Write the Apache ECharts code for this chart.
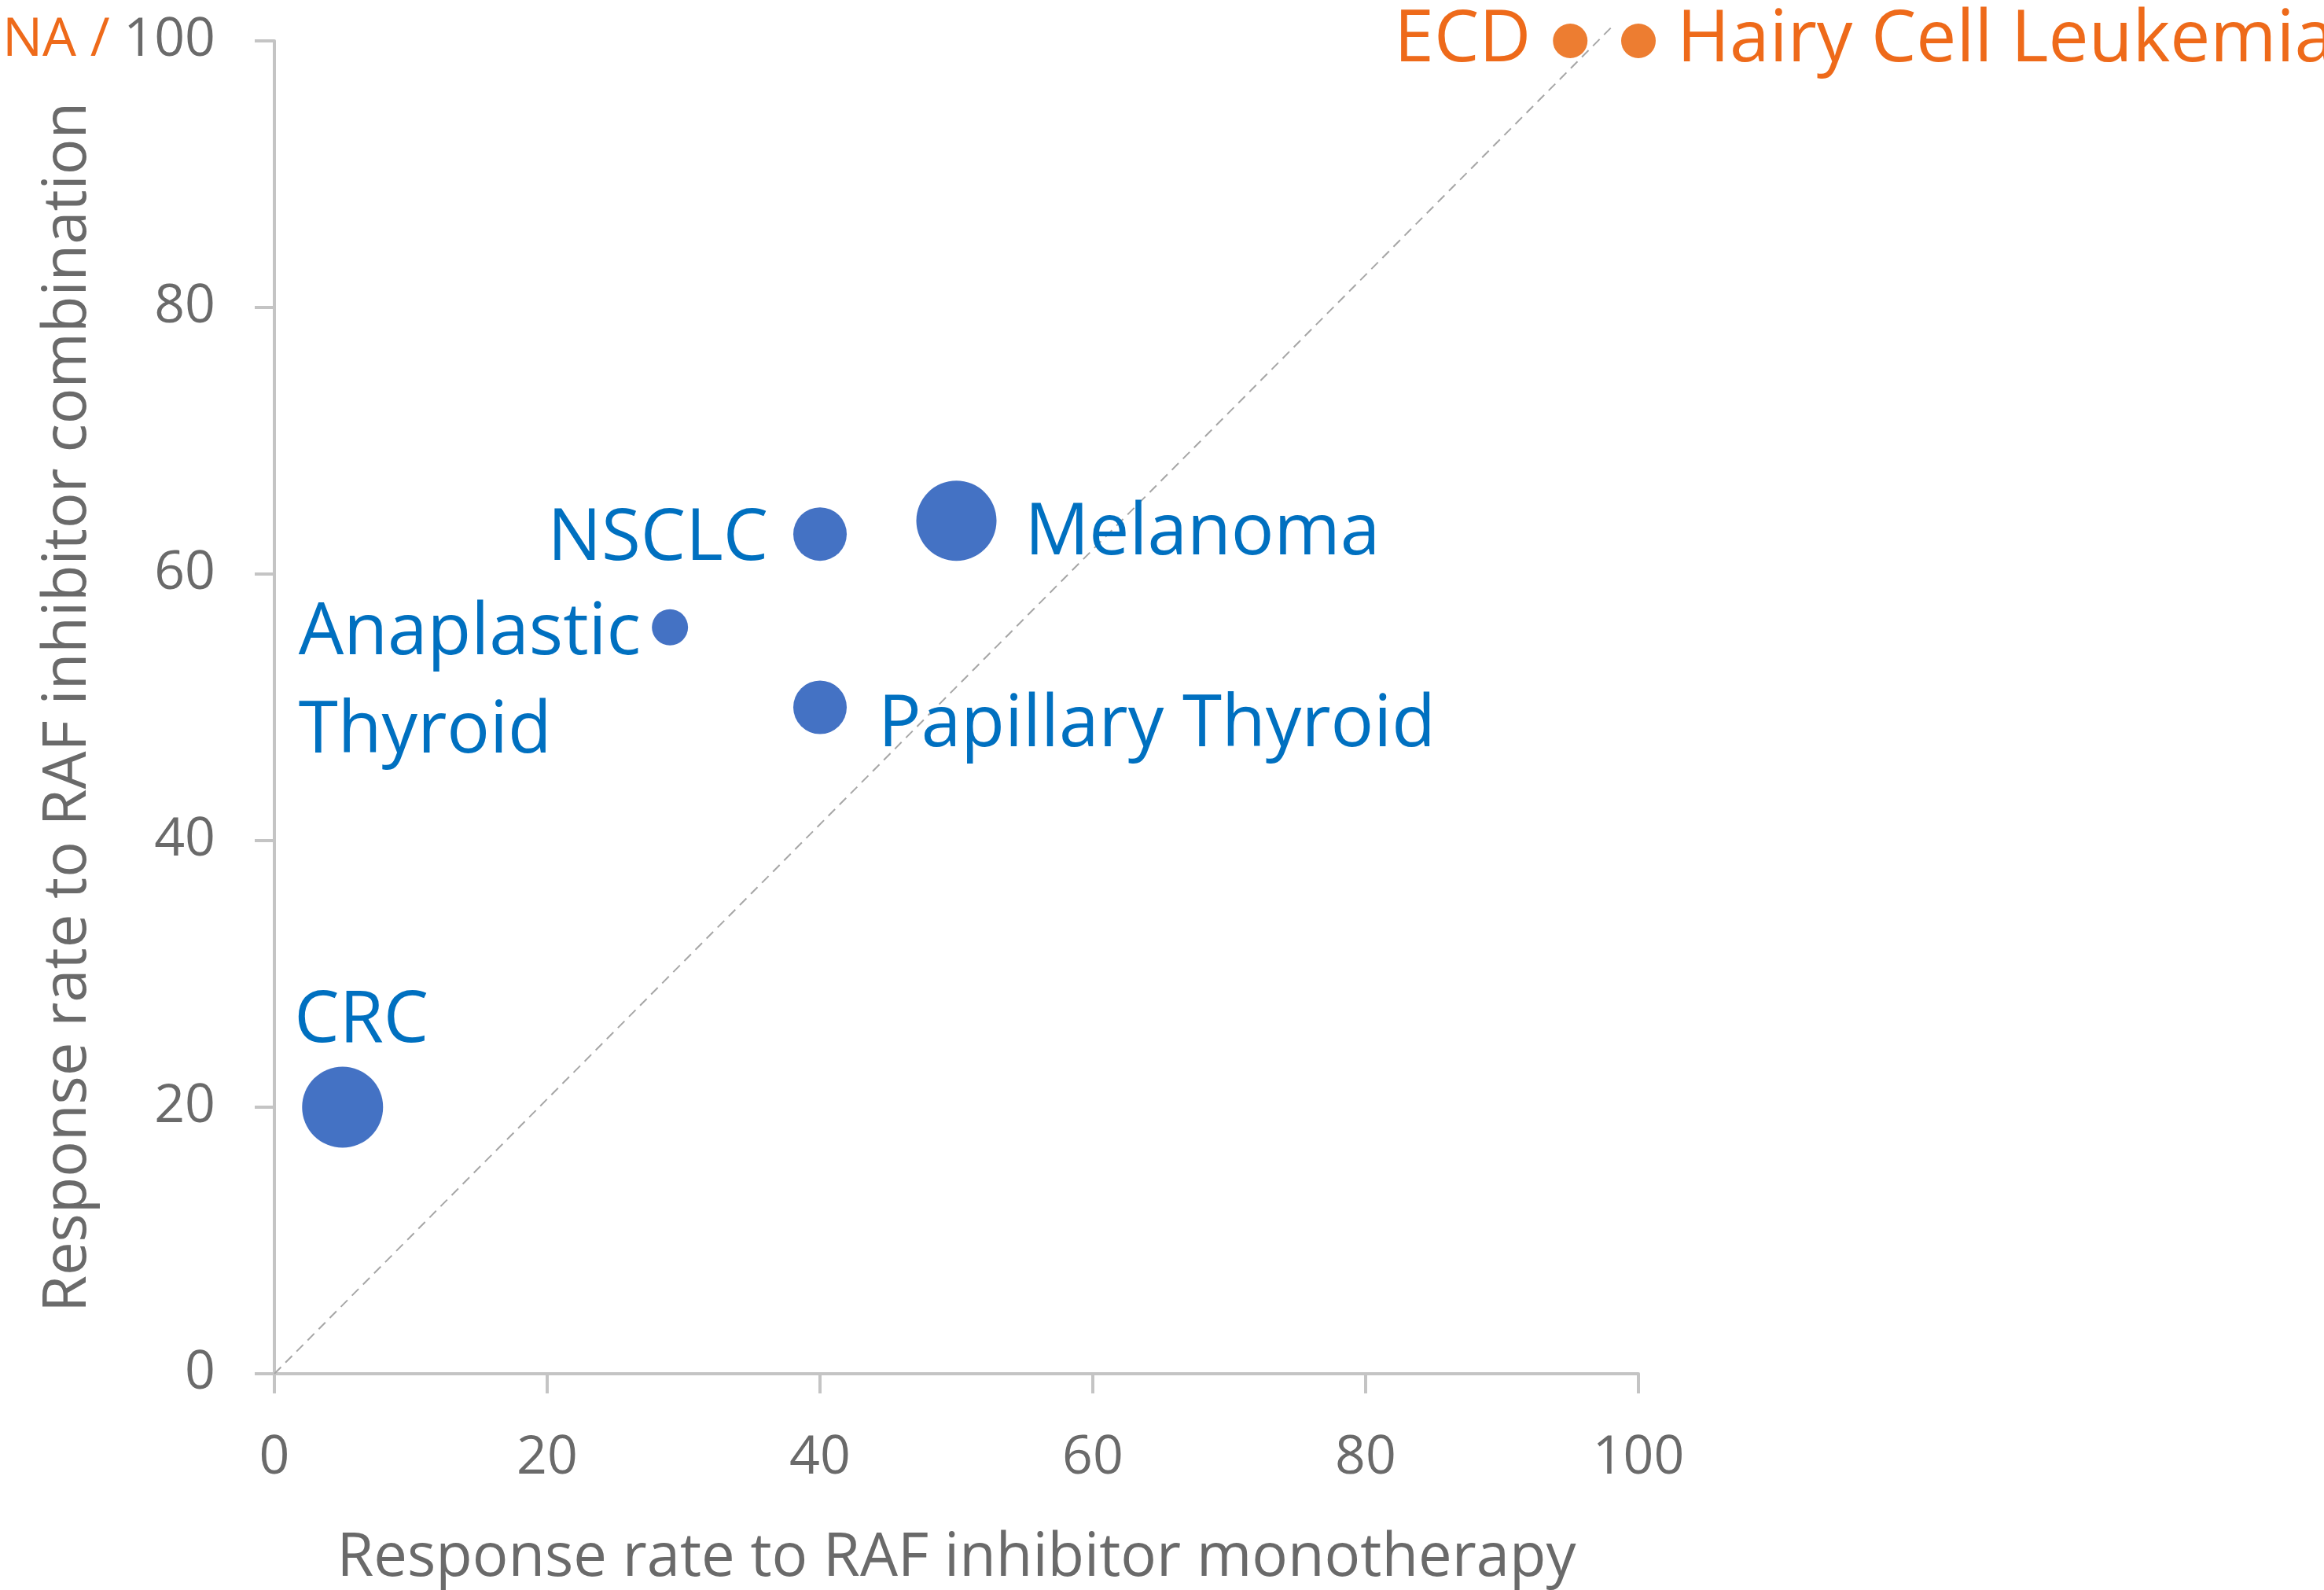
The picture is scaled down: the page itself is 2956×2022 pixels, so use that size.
<!DOCTYPE html>
<html>
<head>
<meta charset="utf-8">
<script src="https://cdn.jsdelivr.net/npm/echarts@6/dist/echarts.min.js"></script>
<style>
html,body{margin:0;padding:0;background:#fff;}
#chart{width:2956px;height:2022px;}
</style>
</head>
<body>
<div id="chart"></div>
<script>
// ---- data ----
const diseases = ['CRC', 'Anaplastic Thyroid', 'NSCLC', 'Papillary Thyroid', 'Melanoma'];
const monotherapyRate = [5, 29, 40, 40, 50];
const combinationRate = [20, 56, 63, 50, 64];
const naDiseases = ['ECD', 'Hairy Cell Leukemia'];
const naMonotherapyRate = [95, 100];
const naCombinationRate = [100, 100];
const xTicks = [0, 20, 40, 60, 80, 100];
const yTicks = [0, 20, 40, 60, 80, 100];
const diagonalX = [0, 98];
const diagonalY = [0, 101];

// ---- styles ----
const FONT = 'Open Sans';
const BLUE_DOT = '#4472C4';
const BLUE_TEXT = '#0070C0';
const ORANGE_DOT = '#ED7D31';
const ORANGE_TEXT = '#EE6A1A';
const GREY_TEXT = '#6A6A6A';
const AXIS_GREY = '#C4C4C4';
const LABEL_SIZE = 91;
const bubbleDiameters = {
  'CRC': 103, 'Anaplastic Thyroid': 46, 'NSCLC': 68,
  'Papillary Thyroid': 68, 'Melanoma': 102,
  'ECD': 44, 'Hairy Cell Leukemia': 44
};
const labelLayout = {
  'CRC': { position: 'top', distance: 12, offset: [24, 0] },
  'Anaplastic Thyroid': { position: 'left', distance: 14, offset: [0, 71],
    formatter: '{t|Anaplastic}\n{t|Thyroid}' },
  'NSCLC': { position: 'left', distance: 32, offset: [0, 7] },
  'Papillary Thyroid': { position: 'right', distance: 40, offset: [0, 24] },
  'Melanoma': { position: 'right', distance: 36, offset: [0, 17] },
  'ECD': { position: 'left', distance: 28, offset: [0, 0] },
  'Hairy Cell Leukemia': { position: 'right', distance: 27, offset: [0, 0] }
};

function buildPoints(names, xs, ys, textColor) {
  return names.map((n, i) => {
    const l = labelLayout[n];
    const label = {
      show: true,
      position: l.position,
      distance: l.distance,
      offset: l.offset,
      color: textColor,
      fontFamily: FONT,
      fontSize: LABEL_SIZE,
      formatter: l.formatter || n
    };
    if (l.formatter) {
      label.rich = { t: { color: textColor, fontFamily: FONT, fontSize: LABEL_SIZE, lineHeight: 125, align: 'left' } };
    }
    return { name: n, value: [xs[i], ys[i]], symbolSize: bubbleDiameters[n], label: label };
  });
}

const chart = echarts.init(document.getElementById('chart'), null, { renderer: 'canvas' });

const axisCommon = {
  type: 'value',
  min: 0,
  max: 100,
  interval: 20,
  nameLocation: 'middle',
  nameMoveOverlap: false,
  nameTextStyle: { color: GREY_TEXT, fontFamily: FONT, fontSize: 76 },
  axisLine: { show: true, onZero: false, lineStyle: { color: AXIS_GREY, width: 4 } },
  axisTick: { show: true, inside: false, length: 25, lineStyle: { color: AXIS_GREY, width: 4 } },
  splitLine: { show: false }
};

chart.setOption({
  animation: false,
  backgroundColor: '#ffffff',
  grid: { left: 349, right: 872, top: 52, bottom: 275, containLabel: false, outerBoundsMode: 'none' },
  xAxis: Object.assign({}, axisCommon, {
    name: 'Response rate to RAF inhibitor monotherapy',
    nameGap: 197,
    axisLabel: { color: GREY_TEXT, fontFamily: FONT, fontSize: 68, margin: 74,
      formatter: v => xTicks.indexOf(v) >= 0 ? String(v) : '' }
  }),
  yAxis: Object.assign({}, axisCommon, {
    name: 'Response rate to RAF inhibitor combination',
    nameGap: 224,
    axisLabel: { color: GREY_TEXT, fontFamily: FONT, fontSize: 68, margin: 75,
      formatter: v => yTicks.indexOf(v) < 0 ? '' : (v === 100 ? '{na|NA /} 100' : String(v)),
      rich: { na: { color: ORANGE_TEXT, fontFamily: FONT, fontSize: 68 } } }
  }),
  series: [
    {
      type: 'line',
      data: diagonalX.map((x, i) => [x, diagonalY[i]]),
      symbol: 'none',
      clip: false,
      silent: true,
      lineStyle: { color: '#A6A6A6', width: 2, type: [12, 8] },
      z: 1
    },
    {
      type: 'scatter',
      data: buildPoints(diseases, monotherapyRate, combinationRate, BLUE_TEXT),
      itemStyle: { color: BLUE_DOT, opacity: 1 },
      z: 3
    },
    {
      type: 'scatter',
      clip: false,
      data: buildPoints(naDiseases, naMonotherapyRate, naCombinationRate, ORANGE_TEXT),
      itemStyle: { color: ORANGE_DOT, opacity: 1 },
      z: 3
    }
  ]
});
</script>
</body>
</html>
